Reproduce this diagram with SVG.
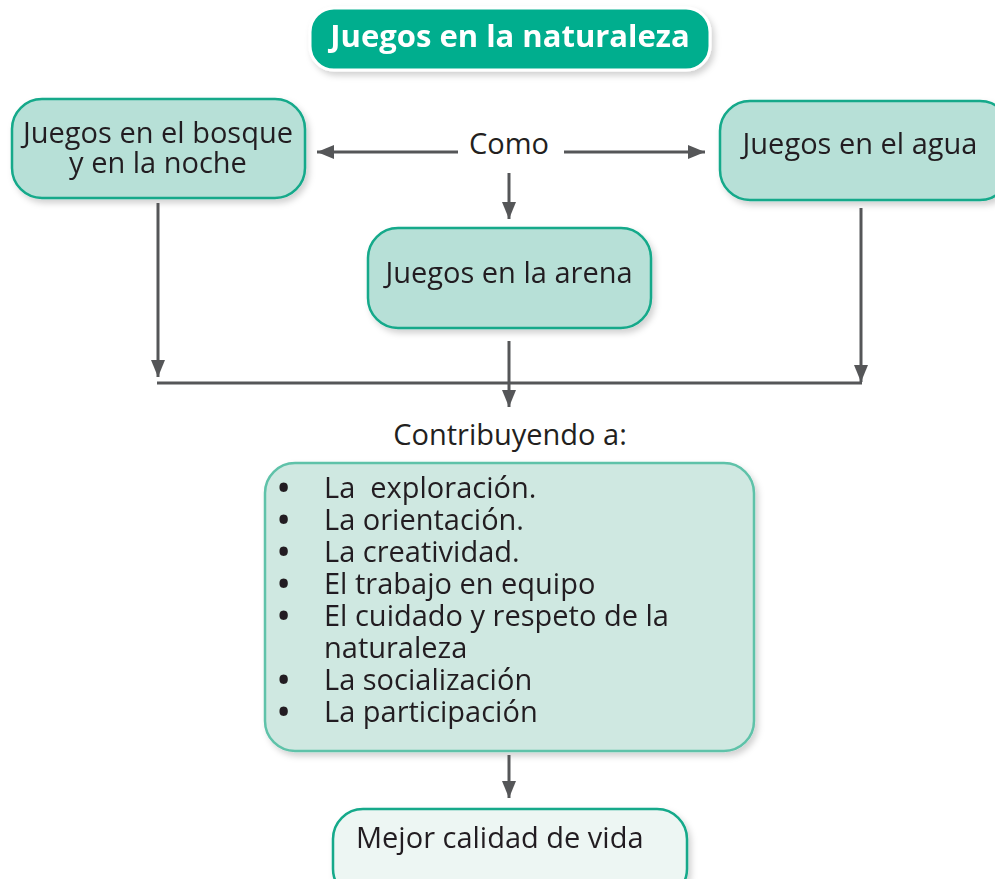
<svg xmlns="http://www.w3.org/2000/svg" width="995" height="879" viewBox="0 0 995 879">
<style>
.t{font-family:"Open Sans","Noto Sans","Liberation Sans",sans-serif;font-size:29px;fill:#231f20}
.b{font-weight:bold;font-size:30px}
.node{fill:#b7e0d7;stroke:#12a98a;stroke-width:2.5}
.con{stroke:#555658;stroke-width:3;fill:none}
</style>
<defs>
<filter id="sh" x="-10%" y="-10%" width="130%" height="140%">
<feDropShadow dx="3" dy="4" stdDeviation="3" flood-color="#000" flood-opacity="0.18"/>
</filter>
<marker id="ah" viewBox="0 0 17 14" refX="17" refY="7" markerWidth="17" markerHeight="14" markerUnits="userSpaceOnUse" orient="auto">
<path d="M0,0 L17,7 L0,14 Z" fill="#555658"/>
</marker>
</defs>
<g id="title" filter="url(#sh)">
<rect x="310" y="8" width="400" height="62" rx="24" fill="#00ae8e" stroke="#fff" stroke-width="3"/>
<text x="510" y="47" text-anchor="middle" class="t" style="font-weight:bold;font-size:31px;fill:#fff">Juegos en la naturaleza</text>
</g>
<g id="bosque" filter="url(#sh)">
<rect class="node" x="12" y="99" width="293" height="99" rx="30"/>
<text class="t" x="158" y="143" text-anchor="middle">Juegos en el bosque</text>
<text class="t" x="158" y="173" text-anchor="middle">y en la noche</text>
</g>
<g id="agua" filter="url(#sh)">
<rect class="node" x="720" y="101" width="290" height="99" rx="30"/>
<text class="t" x="860" y="154" text-anchor="middle">Juegos en el agua</text>
</g>
<g id="arena" filter="url(#sh)">
<rect class="node" x="368" y="228" width="283" height="100" rx="30"/>
<text class="t" x="509" y="283" text-anchor="middle">Juegos en la arena</text>
</g>
<g id="como">
<text class="t" x="509" y="154" text-anchor="middle">Como</text>
</g>
<g id="contribuyendo">
<text class="t" x="510" y="445" text-anchor="middle">Contribuyendo a:</text>
</g>
<g id="lista" filter="url(#sh)">
<rect x="265" y="463" width="489" height="288" rx="30" fill="#cfe8e1" stroke="#5ec2a9" stroke-width="2.5"/>
<g class="t">
<text class="b" x="278" y="498">•</text><text x="324" y="498" xml:space="preserve">La  exploración.</text>
<text class="b" x="278" y="530">•</text><text x="324" y="530">La orientación.</text>
<text class="b" x="278" y="562">•</text><text x="324" y="562">La creatividad.</text>
<text class="b" x="278" y="594">•</text><text x="324" y="594">El trabajo en equipo</text>
<text class="b" x="278" y="626">•</text><text x="324" y="626">El cuidado y respeto de la</text>
<text x="324" y="658">naturaleza</text>
<text class="b" x="278" y="690">•</text><text x="324" y="690">La socialización</text>
<text class="b" x="278" y="722">•</text><text x="324" y="722">La participación</text>
</g>
</g>
<g id="mejor" filter="url(#sh)">
<rect x="333" y="809" width="354" height="90" rx="30" fill="#edf6f3" stroke="#12a98a" stroke-width="2.5"/>
<text class="t" x="356" y="848">Mejor calidad de vida</text>
</g>
<g id="connectors" class="con">
<line x1="458" y1="152" x2="317" y2="152" marker-end="url(#ah)"/>
<line x1="564" y1="152" x2="705" y2="152" marker-end="url(#ah)"/>
<line x1="509" y1="173" x2="509" y2="219" marker-end="url(#ah)"/>
<line x1="158" y1="203" x2="158" y2="377" marker-end="url(#ah)"/>
<line x1="861" y1="208" x2="861" y2="382" marker-end="url(#ah)"/>
<line x1="157" y1="383" x2="862" y2="383"/>
<line x1="509" y1="341" x2="509" y2="407" marker-end="url(#ah)"/>
<line x1="509" y1="755" x2="509" y2="798" marker-end="url(#ah)"/>
</g>
</svg>
